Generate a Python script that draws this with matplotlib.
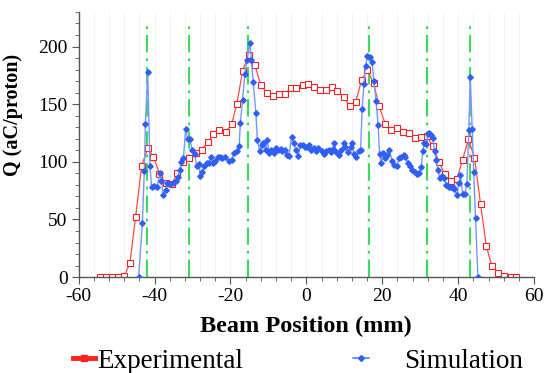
import matplotlib
matplotlib.use("Agg")
import matplotlib.pyplot as plt
from matplotlib.lines import Line2D
from matplotlib.ticker import MultipleLocator

plt.rcParams['font.family'] = ['Liberation Serif', 'DejaVu Serif']
plt.rcParams['axes.unicode_minus'] = False

# Experimental profile (mm, aC/proton)
exp_x = [-54.4, -52.8, -51.3, -49.7, -48.0, -46.5, -45.0, -43.4, -41.8, -40.3,
         -38.7, -37.1, -35.5, -34.0, -32.4, -30.8, -29.2, -27.6, -26.0, -24.5,
         -22.9, -21.3, -19.7, -18.3, -16.8, -15.2, -13.6, -12.0, -10.4, -8.9,
         -7.3, -5.7, -4.1, -2.6, -1.0, 0.5, 2.0, 3.6, 5.1, 6.7,
         8.2, 9.9, 11.5, 13.0, 14.6, 16.1, 17.7, 19.2, 20.8, 22.4,
         23.9, 25.5, 27.1, 28.7, 30.3, 31.8, 33.3, 34.9, 36.5, 38.1,
         39.7, 41.2, 42.7, 44.3, 45.9, 47.4, 48.9, 50.6, 52.2, 53.8, 55.3]
exp_q = [0, 0, 0, 0, 1, 12, 52, 96.5, 111.6, 104.6,
         89.6, 81.4, 80.6, 90, 100, 103.5, 107.5, 110.4, 116.8, 124.3,
         127.8, 125.8, 132.5, 150.4, 178.8, 193, 184.3, 166.7, 159.7, 156.8,
         158.8, 159, 163.8, 164.3, 166.4, 167.2, 165, 162.6, 162.6, 164.6,
         161, 156.2, 148, 151.9, 171.3, 179.4, 168.4, 148, 132.8, 127.2,
         129, 125.8, 125, 120.9, 121.4, 122, 113.9, 100, 89.3, 83.5,
         85.5, 102, 119.7, 103.7, 63.5, 27.2, 9.8, 3.2, 1, 0.5, 0]

# Simulation profile
sim_x = [-44.2, -43.2, -42.7, -42.4, -41.8, -41.2, -40.8, -40.1, -39.3, -38.6,
         -38.2, -37.7, -37.0, -36.6, -36.0, -35.1, -34.4, -33.8, -33.3, -32.9,
         -32.4, -31.8, -31.3, -30.7, -30.1, -29.4, -28.9, -28.3, -27.9, -27.4,
         -26.9, -26.3, -25.7, -25.2, -24.6, -24.0, -23.4, -22.8, -22.2, -21.5,
         -20.3, -19.7, -19.1, -18.4, -17.7, -17.4, -16.8, -16.2, -15.6, -14.9,
         -14.5, -14.0, -13.3, -12.9, -12.3, -11.8, -11.4, -10.7, -10.3, -9.8,
         -9.2, -8.6, -8.1, -7.4, -6.8, -6.3, -5.7, -5.1, -4.6, -3.9,
         -3.3, -2.8, -2.2, -1.6, -1.0, -0.4, 0.1, 0.6, 1.3, 2.0,
         2.6, 3.2, 4.0, 4.7, 5.3, 5.9, 6.6, 7.0, 7.4, 7.9,
         8.5, 9.2, 9.9, 10.3, 11.0, 11.7, 12.1, 12.5, 13.2, 13.8,
         14.3, 14.7, 15.2, 15.6, 16.1, 16.7, 17.3, 17.8, 18.4, 18.9,
         19.3, 19.7, 20.2, 20.6, 21.3, 21.9, 22.6, 23.2, 23.9, 24.4,
         25.0, 25.6, 26.1, 26.8, 27.4, 27.9, 28.5, 29.1, 29.7, 30.3,
         30.7, 31.1, 31.6, 32.0, 32.4, 32.9, 33.3, 33.8, 34.2, 34.7,
         35.1, 35.8, 36.4, 36.8, 37.3, 37.7, 38.2, 38.6, 39.0, 39.7,
         40.2, 40.6, 41.2, 41.8, 42.3, 42.8, 43.2, 43.7, 44.1, 44.6, 45.2]
sim_q = [0, 47, 92, 133, 178, 96, 78.5, 79.4, 78.5, 90,
         83, 71, 75.6, 81.4, 81, 81.5, 83, 87, 93, 100,
         103, 128.7, 119.7, 119.7, 110.4, 107, 96, 98.3, 87.8, 91.6,
         96, 98.8, 99.4, 104.6, 98.8, 101, 104, 104, 103, 104.6,
         100.3, 101.7, 107.5, 109, 113.3, 133.6, 154, 176.5, 188.7, 203,
         188.7, 169, 142.3, 119, 109, 114.8, 116, 110.4, 119, 107.5,
         110.4, 108, 111.6, 110.4, 111, 109, 110, 106, 105, 121.5,
         116, 110.4, 105, 114.8, 115, 113, 112.6, 114.8, 110.4, 112,
         109.5, 112, 109, 106.6, 109, 110.4, 108.5, 111, 116, 108.5,
         105.8, 110.4, 116, 113, 108.5, 113, 116, 106.6, 104.6, 109.5,
         110.4, 145.8, 167.8, 182.9, 191.6, 191, 186.7, 169.8, 152.4, 132,
         107, 99.4, 107.5, 103, 106, 110.4, 100.3, 97.4, 96.5, 103,
         104.6, 106, 104.6, 98.8, 96, 93, 91.6, 89.6, 90.7, 95.4,
         109.8, 116, 115.4, 124.3, 124.8, 123.4, 120.6, 109, 101.7, 93,
         85.8, 87.3, 85.8, 80, 79.4, 78.5, 78.5, 78, 76.2, 71.3,
         82, 88.7, 72, 72.5, 81, 127.8, 173.6, 128.3, 91.6, 51, 0]

# positions of the vertical reference lines (mm)
marker_x = [-42, -31, -15.5, 16.4, 31.8, 43.2]

fig = plt.figure(figsize=(5.5, 3.73), dpi=100)
ax = fig.add_axes([0.143, 0.257, 0.828, 0.711])

for gx in range(-60, 61, 4):
    ax.axvline(gx, color='#f2f2f2', lw=0.6, zorder=0)

ax.vlines(marker_x, 0, 222, colors='#33dd55', linestyles=(0, (9, 3, 1.5, 3)), lw=1.4, zorder=1)

ax.plot(exp_x, exp_q, color='#ff4a4a', lw=0.9, marker='s', ms=4.4,
        mfc='white', mec='#ee2222', mew=0.8, zorder=2)
ax.plot(sim_x, sim_q, color='#7896ff', lw=1.0, marker='D', ms=2.8,
        mfc='#2f5ff5', mec='#2f5ff5', zorder=3)

ax.set_xlim(-60, 60)
ax.set_ylim(0, 230)
ax.xaxis.set_major_locator(MultipleLocator(20))
ax.xaxis.set_minor_locator(MultipleLocator(4))
ax.yaxis.set_major_locator(MultipleLocator(50))
ax.yaxis.set_minor_locator(MultipleLocator(10))
for s in ['top', 'right']:
    ax.spines[s].set_visible(False)
for s in ['left', 'bottom']:
    ax.spines[s].set_color('#555555')
    ax.spines[s].set_linewidth(1.0)
ax.tick_params(which='major', length=5, color='#555555', labelsize=14, pad=3)
ax.tick_params(which='minor', length=3, color='#555555')

ax.set_xlabel("Beam Position (mm)", fontsize=17.5, fontweight='bold', labelpad=8)
ax.set_ylabel("Q (aC/proton)", fontsize=14.5, fontweight='bold')
ax.yaxis.set_label_coords(-0.123, 0.61)

h_exp = Line2D([], [], color='#ff2020', lw=3.5, marker='s', ms=4, mfc='#ff2020', mec='#ff2020')
h_sim = Line2D([], [], color='#5a82ff', lw=1.2, marker='D', ms=3, mfc='#2f5ff5', mec='#2f5ff5')
fig.legend([h_exp], ['Experimental'], loc='center left', bbox_to_anchor=(0.133, 0.032),
           frameon=False, fontsize=19.5, borderpad=0, borderaxespad=0,
           handlelength=0.8, handletextpad=0.1)
fig.legend([h_sim], ['Simulation'], loc='center left', bbox_to_anchor=(0.642, 0.032),
           frameon=False, fontsize=19.5, borderpad=0, borderaxespad=0,
           handlelength=0.6, handletextpad=1.3)

fig.savefig("out.png", dpi=100)
